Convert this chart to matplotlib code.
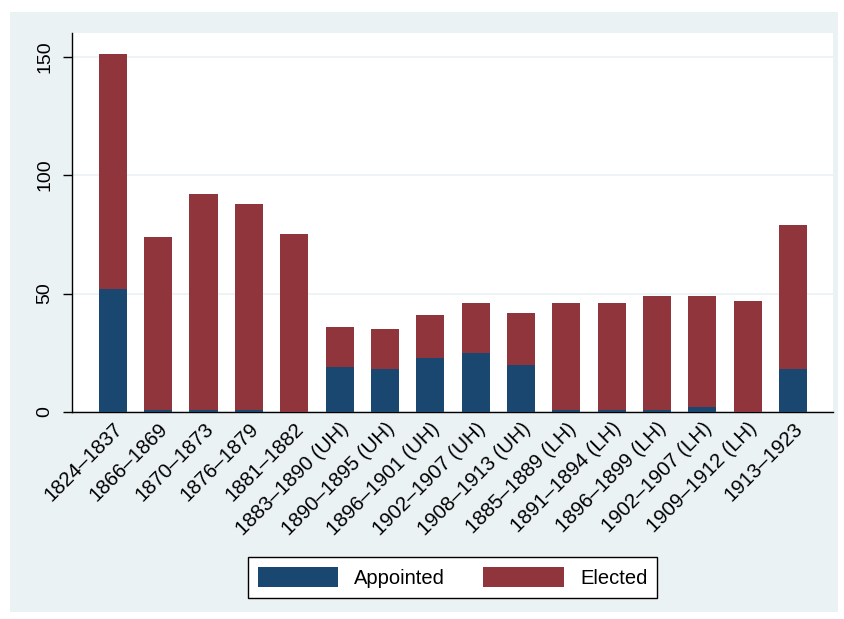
import matplotlib
matplotlib.use("Agg")
import matplotlib.pyplot as plt
from matplotlib.patches import Rectangle
import numpy as np

plt.rcParams['font.family'] = ['Liberation Sans', 'DejaVu Sans']

categories = ["1824–1837", "1866–1869", "1870–1873", "1876–1879", "1881–1882",
              "1883–1890 (UH)", "1890–1895 (UH)", "1896–1901 (UH)", "1902–1907 (UH)",
              "1908–1913 (UH)", "1885–1889 (LH)", "1891–1894 (LH)", "1896–1899 (LH)",
              "1902–1907 (LH)", "1909–1912 (LH)", "1913–1923"]
totals = [151, 74, 92, 88, 75, 36, 35, 41, 46, 42, 46, 46, 49, 49, 47, 79]
appointed = [52, 1, 1, 1, 0, 19, 18, 23, 25, 20, 1, 1, 1, 2, 0, 18]
elected = [t - a for t, a in zip(totals, appointed)]
yticks = [0, 50, 100, 150]

W, H = 844, 619
fig = plt.figure(figsize=(W / 100, H / 100), dpi=100, facecolor='white')
bgc = '#EAF2F3'
fig.patches.append(Rectangle((10 / W, 1 - 612 / H), 828 / W, 600 / H,
                             transform=fig.transFigure, facecolor=bgc,
                             edgecolor='none', zorder=-10))

ax = fig.add_axes([72 / W, 1 - 412 / H, (833 - 72) / W, (412 - 33) / H])
ax.set_facecolor('white')

x = np.arange(len(categories))
bw = 0.62
ax.bar(x, appointed, bw, color='#1A476F', label='Appointed', zorder=3)
ax.bar(x, elected, bw, bottom=appointed, color='#90353B', label='Elected', zorder=3)

ax.set_xlim(-0.9, len(categories) - 1 + 0.88)
ax.set_ylim(0, 160)
ax.set_yticks(yticks)
ax.set_yticklabels([str(v) for v in yticks], rotation=90, va='center', fontsize=14)
ax.yaxis.grid(True, color=bgc, linewidth=1.2, zorder=0)
ax.set_axisbelow(True)

ax.set_xticks(x)
ax.set_xticklabels(categories, rotation=45, ha='right', rotation_mode='anchor', fontsize=14.7)
ax.tick_params(axis='x', length=0, pad=5)
ax.tick_params(axis='y', direction='out', length=6.5, width=1, color='black', pad=7)

for s in ['top', 'right']:
    ax.spines[s].set_visible(False)
for s in ['left', 'bottom']:
    ax.spines[s].set_color('black')
    ax.spines[s].set_linewidth(1)

leg = fig.legend(loc='center', bbox_to_anchor=(452.5 / W, 1 - 577.5 / H), ncol=2,
                 fontsize=14.5, frameon=True, fancybox=False, handlelength=4,
                 handleheight=1.1, handletextpad=0.8, columnspacing=1.9,
                 borderpad=0.5, framealpha=1)
leg.get_frame().set_edgecolor('black')
leg.get_frame().set_linewidth(1)
leg.get_frame().set_facecolor('white')

fig.savefig('out.png', dpi=100, facecolor='white')
